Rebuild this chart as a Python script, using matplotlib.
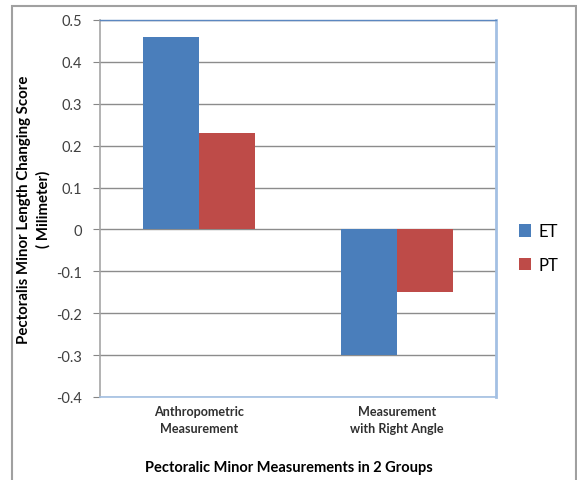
import numpy as np
import matplotlib.pyplot as plt
from matplotlib.patches import Rectangle

# Datos
categorias = ["Anthropometric\nMeasurement", "Measurement\nwith Right Angle"]
grupos = ["ET", "PT"]
valores_et = [0.46, -0.30]
valores_pt = [0.23, -0.15]
colores = ["#4A7EBB", "#BE4B48"]
marcas_y = [0.5, 0.4, 0.3, 0.2, 0.1, 0, -0.1, -0.2, -0.3, -0.4]

plt.rcParams['font.family'] = ['Lato', 'DejaVu Sans']

fig = plt.figure(figsize=(5.77, 4.81), dpi=100)
ax = fig.add_axes([0.1733, 0.1726, 0.6863, 0.7838])

x = np.arange(len(categorias))
ancho = 0.283
ax.bar(x - ancho / 2, valores_et, ancho, color=colores[0], label=grupos[0], zorder=3)
ax.bar(x + ancho / 2, valores_pt, ancho, color=colores[1], label=grupos[1], zorder=3)

ax.set_xlim(-0.5, 1.5)
ax.set_ylim(-0.4, 0.5)
ax.set_yticks(marcas_y)
ax.set_yticklabels([f"{v:g}" for v in marcas_y], fontsize=10.5, color="#404040")
ax.tick_params(axis='y', length=5, width=0.8, color="#868686", pad=8)
ax.set_xticks(x)
ax.set_xticklabels(categorias, fontsize=9.1, fontweight='bold', color="#303030",
                   linespacing=1.45)
ax.tick_params(axis='x', length=0, pad=6)
ax.grid(axis='y', color="#8C8C8C", linewidth=1.0, zorder=0)

# Bordes del área de trazado
ax.spines['left'].set_color("#A6A6A6")
ax.spines['left'].set_linewidth(1.2)
ax.spines['top'].set_color("#5B87C0")
ax.spines['top'].set_linewidth(1.0)
ax.spines['right'].set_color("#A3C0E3")
ax.spines['right'].set_linewidth(2.0)
ax.spines['bottom'].set_color("#A3C0E3")
ax.spines['bottom'].set_linewidth(1.2)

ax.set_ylabel("Pectoralis Minor Length Changing Score\n( Milimeter)",
              fontsize=10.8, fontweight='bold', linespacing=1.4)
ax.yaxis.set_label_coords(-0.126, 0.5)
fig.text(0.5, 0.027, "Pectoralic Minor Measurements in 2 Groups",
         ha='center', va='center', fontsize=10.5, fontweight='bold')

ax.legend(loc='center left', bbox_to_anchor=(1.02, 0.395), frameon=False,
          fontsize=12, handlelength=0.75, handleheight=0.75,
          labelspacing=1.05, handletextpad=0.4)

# Marco exterior del gráfico
marco = Rectangle((12 / 577, -0.05), (576 - 12) / 577, (481 - 7) / 481 + 0.05,
                  transform=fig.transFigure, fill=False,
                  edgecolor="#A0A0A0", linewidth=1.5)
fig.patches.append(marco)

fig.savefig("out.png", dpi=100)
